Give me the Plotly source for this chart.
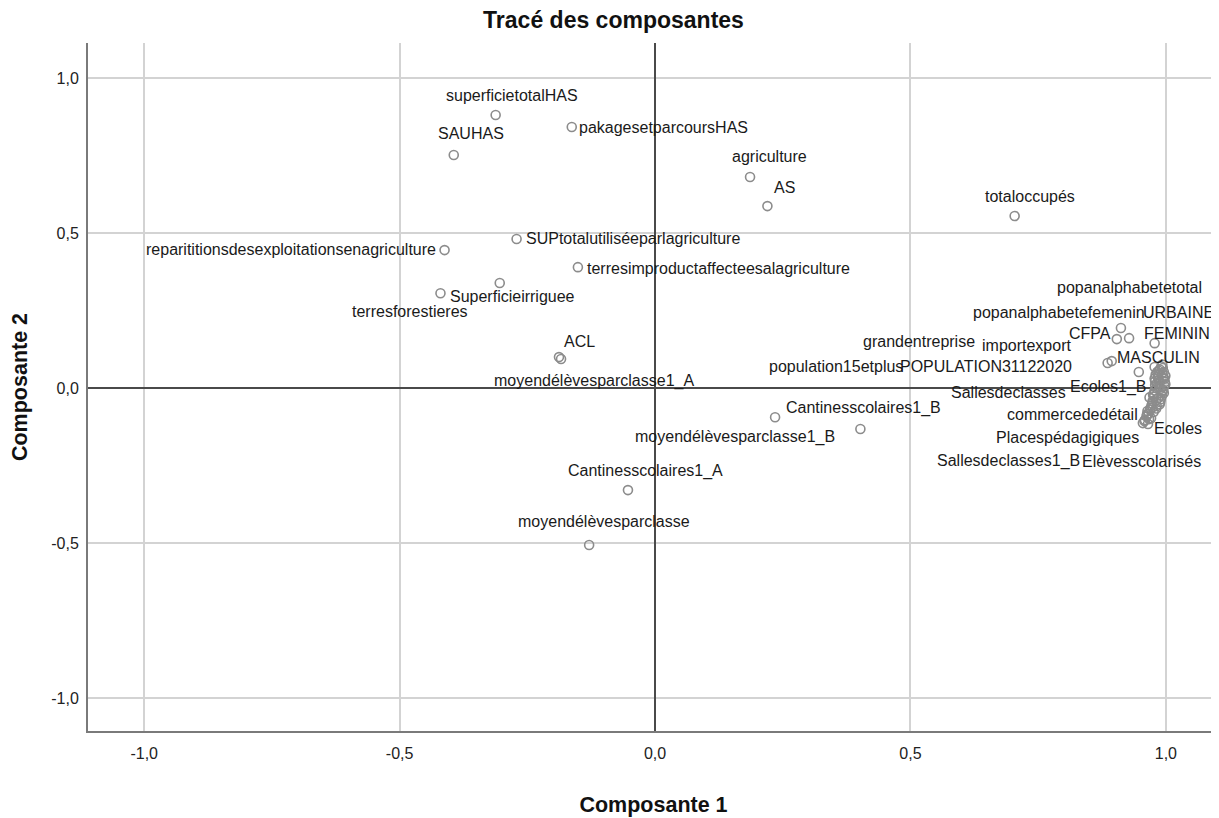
import plotly.graph_objects as go

# ---------------- data (component loadings) ----------------
labeled_names = [
    "superficietotalHAS", "pakagesetparcoursHAS", "SAUHAS", "agriculture", "AS",
    "totaloccupés", "reparititionsdesexploitationsenagriculture",
    "SUPtotalutiliséeparlagriculture", "terresimproductaffecteesalagriculture",
    "Superficieirriguee", "terresforestieres", "ACL", "moyendélèvesparclasse1_A",
    "Cantinesscolaires1_B", "moyendélèvesparclasse1_B", "Cantinesscolaires1_A",
    "moyendélèvesparclasse",
    "popanalphabetetotal", "popanalphabetefemenin", "CFPA", "FEMININ", "URBAINE",
    "MASCULIN", "grandentreprise", "importexport", "population15etplus",
    "POPULATION31122020", "Sallesdeclasses", "Ecoles1_B", "commercededétail",
    "Ecoles", "Placespédagigiques", "Sallesdeclasses1_B", "Elèvesscolarisés",
]
labeled_c1 = [
    -0.312, -0.163, -0.394, 0.186, 0.220,
    0.704, -0.412,
    -0.271, -0.151,
    -0.304, -0.420, -0.184, -0.188,
    0.235, 0.402, -0.053,
    -0.129,
    0.912, 0.904, 0.928, 0.978, 0.993,
    0.978, 0.886, 0.894, 0.985,
    0.995, 0.988, 0.981, 0.974,
    0.970, 0.963, 0.959, 0.965,
]
labeled_c2 = [
    0.881, 0.842, 0.752, 0.681, 0.587,
    0.555, 0.445,
    0.481, 0.390,
    0.339, 0.306, 0.094, 0.100,
    -0.094, -0.132, -0.329,
    -0.506,
    0.194, 0.158, 0.161, 0.145, 0.076,
    0.068, 0.081, 0.087, 0.045,
    0.033, 0.016, 0.000, -0.042,
    -0.064, -0.084, -0.103, -0.116,
]

# unlabeled variables hidden in the dense cluster near Composante 1 = 1
cluster_c1 = [0.947, 0.988, 0.996, 0.978, 0.997, 0.993, 0.976, 0.985, 0.982,
              0.976, 0.971, 0.955, 0.999, 0.990, 0.998, 0.983, 0.992, 0.968,
              0.994, 0.986, 0.979, 0.989, 0.973, 0.962,
              0.991, 0.984, 0.997, 0.980, 0.995, 0.987, 0.978, 0.969, 0.981,
              0.974, 0.966, 0.958, 0.990, 0.999, 0.983, 0.975,
              0.993, 0.986, 0.979, 0.972, 0.964, 0.996, 0.988, 0.981, 0.977,
              0.967]
cluster_c2 = [0.052, 0.060, 0.052, 0.031, 0.007, -0.012, -0.018, -0.032, -0.058,
              -0.077, -0.097, -0.113, 0.040, -0.002, 0.020, 0.052, -0.025, -0.030,
              0.065, 0.026, 0.010, -0.045, -0.050, -0.092,
              0.070, 0.036, 0.030, 0.044, -0.006, 0.004, -0.008, -0.070, -0.040,
              -0.062, -0.083, -0.106, -0.036, 0.012, 0.016, -0.022,
              0.048, 0.056, 0.022, -0.056, -0.074, -0.016, -0.052, -0.066, -0.028,
              -0.100]

tick_vals = [-1.0, -0.5, 0.0, 0.5, 1.0]
tick_text = ["-1,0", "-0,5", "0,0", "0,5", "1,0"]

# label placement (anchor, x shift px, y shift px) relative to each point
label_offsets = {
    "superficietotalHAS": ("center", 16, 19),
    "pakagesetparcoursHAS": ("left", 5, 0),
    "SAUHAS": ("center", 17, 21),
    "agriculture": ("center", 19, 20),
    "AS": ("center", 17, 19),
    "totaloccupés": ("center", 15, 20),
    "reparititionsdesexploitationsenagriculture": ("right", -7, 1),
    "SUPtotalutiliséeparlagriculture": ("left", 7, 0),
    "terresimproductaffecteesalagriculture": ("left", 7, -1),
    "Superficieirriguee": ("center", 13, -14),
    "terresforestieres": ("center", -30, -18),
    "ACL": ("center", 18, 17),
    "moyendélèvesparclasse1_A": ("center", 35, -24),
    "Cantinesscolaires1_B": ("left", 9, 9),
    "moyendélèvesparclasse1_B": ("right", -23, -8),
    "Cantinesscolaires1_A": ("center", 18, 19),
    "moyendélèvesparclasse": ("center", 15, 23),
    "popanalphabetetotal": ("center", 9, 40),
    "popanalphabetefemenin": ("center", -58, 27),
    "CFPA": ("center", -39, 5),
    "FEMININ": ("center", 22, 10),
    "URBAINE": ("center", 16, 52),
    "MASCULIN": ("center", 4, 10),
    "grandentreprise": ("right", -131, 21),
    "importexport": ("left", -132, 16),
    "population15etplus": ("center", -322, 8),
    "POPULATION31122020": ("center", -177, 11),
    "Sallesdeclasses": ("center", -151, -9),
    "Ecoles1_B": ("center", -48, 1),
    "commercededétail": ("center", -80, -13),
    "Ecoles": ("center", 27, -21),
    "Placespédagigiques": ("center", -79, -23),
    "Sallesdeclasses1_B": ("center", -136, -41),
    "Elèvesscolarisés": ("center", -6, -37),
}

FONT = "Liberation Sans, Arial, sans-serif"
marker_style = dict(symbol="circle-open", size=9, color="#8c8c8c",
                    line=dict(width=1.6, color="#8c8c8c"))

fig = go.Figure()
fig.add_trace(go.Scatter(x=cluster_c1, y=cluster_c2, mode="markers",
                         marker=marker_style, hoverinfo="skip", showlegend=False))
fig.add_trace(go.Scatter(x=labeled_c1, y=labeled_c2, mode="markers",
                         marker=marker_style, text=labeled_names,
                         hoverinfo="text+x+y", showlegend=False))

for name, cx, cy in zip(labeled_names, labeled_c1, labeled_c2):
    anchor, dx, dy = label_offsets[name]
    fig.add_annotation(x=cx, y=cy, text=name, showarrow=False,
                       xanchor=anchor, yanchor="middle", xshift=dx, yshift=dy,
                       font=dict(family=FONT, size=16, color="#1a1a1a"))

axis_common = dict(
    tickvals=tick_vals, ticktext=tick_text,
    showgrid=True, gridcolor="#d3d3d3", gridwidth=1.5,
    zeroline=True, zerolinecolor="#4a4a4a", zerolinewidth=2,
    showline=True, linecolor="#7a7a7a", linewidth=2,
    ticks="outside", tickcolor="rgba(0,0,0,0)",
    tickfont=dict(family=FONT, size=16, color="#222222"),
    fixedrange=True,
)

# page body adds an 8px margin, so the figure is 8px smaller and margins compensate
fig.update_layout(
    width=1211, height=810,
    margin=dict(l=80, r=0, t=35, b=87),
    paper_bgcolor="white", plot_bgcolor="white",
    font=dict(family=FONT),
    title=dict(text="<b>Tracé des composantes</b>", x=0.5, xref="container",
               xanchor="center", y=1 - 12 / 810, yref="container", yanchor="middle",
               font=dict(family=FONT, size=23, color="#111111")),
    xaxis=dict(range=[-1.110, 1.104], ticklen=7,
               title=dict(text="<b>Composante 1</b>", standoff=36,
                          font=dict(family=FONT, size=21.5, color="#111111")),
               **axis_common),
    yaxis=dict(range=[-1.106, 1.113], ticklen=4,
               title=dict(text="<b>Composante 2</b>", standoff=19,
                          font=dict(family=FONT, size=21.5, color="#111111")),
               **axis_common),
    showlegend=False,
)

fig.write_html("out.html")
